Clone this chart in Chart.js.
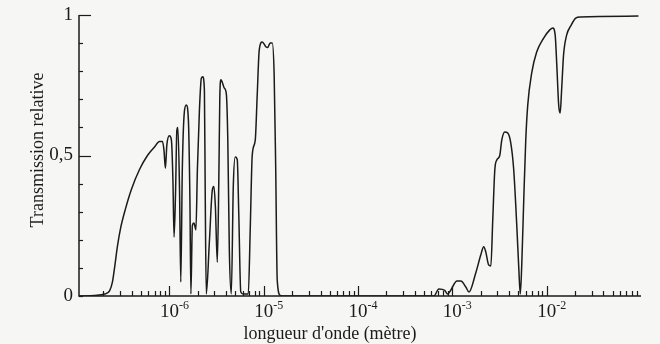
<!DOCTYPE html>
<html>
<head>
<meta charset="utf-8">
<script src="https://cdn.jsdelivr.net/npm/chart.js@4.4.1/dist/chart.umd.min.js"></script>
<style>
  html, body { margin: 0; padding: 0; background: #f6f6f4; }
  #wrap { width: 660px; height: 344px; }
</style>
</head>
<body>
<div id="wrap"><canvas id="graphe"></canvas></div>
<script>
// longueur d'onde (m)
const longueurs = [
  1.09e-7, 1.61e-7, 2.05e-7, 2.32e-7, 2.49e-7, 2.62e-7, 2.82e-7, 3.03e-7, 3.42e-7, 3.96e-7,
  4.82e-7, 5.85e-7, 6.94e-7, 7.84e-7, 8.43e-7, 8.75e-7, 9.07e-7, 9.39e-7, 1.0e-6, 1.05e-6,
  1.09e-6, 1.12e-6, 1.16e-6, 1.20e-6, 1.23e-6, 1.28e-6, 1.32e-6, 1.37e-6, 1.44e-6, 1.51e-6,
  1.59e-6, 1.65e-6, 1.69e-6, 1.75e-6, 1.82e-6, 1.91e-6, 1.98e-6, 2.08e-6, 2.18e-6, 2.26e-6,
  2.35e-6, 2.40e-6, 2.46e-6, 2.65e-6, 2.85e-6, 2.96e-6, 3.07e-6, 3.22e-6, 3.34e-6, 3.42e-6,
  3.51e-6, 3.64e-6, 3.82e-6, 4.01e-6, 4.16e-6, 4.32e-6, 4.53e-6, 4.76e-6, 4.99e-6, 5.24e-6,
  5.44e-6, 5.71e-6, 6.07e-6, 6.86e-6, 7.19e-6, 7.55e-6, 8.13e-6, 8.53e-6, 8.96e-6, 9.64e-6,
  1.06e-5, 1.10e-5, 1.17e-5, 1.23e-5, 1.29e-5, 1.34e-5, 1.39e-5, 1.50e-5, 1.65e-5,
  6.37e-4, 7.19e-4, 8.30e-4, 8.90e-4, 9.50e-4, 1.12e-3, 1.23e-3, 1.39e-3, 1.50e-3, 1.77e-3,
  2.00e-3, 2.15e-3, 2.26e-3, 2.43e-3, 2.56e-3, 2.68e-3, 2.82e-3, 2.96e-3, 3.18e-3, 3.34e-3,
  3.59e-3, 3.87e-3, 4.16e-3, 4.47e-3, 4.82e-3, 5.06e-3, 5.25e-3, 5.44e-3, 5.71e-3, 6.00e-3,
  6.30e-3, 6.94e-3, 7.83e-3, 9.29e-3, 1.08e-2, 1.16e-2, 1.23e-2, 1.28e-2, 1.34e-2, 1.39e-2,
  1.44e-2, 1.51e-2, 1.63e-2, 1.80e-2, 2.03e-2, 2.29e-2, 9.4e-2
];
const transmission = [
  0, 0.002, 0.007, 0.018, 0.05, 0.10, 0.18, 0.24, 0.31, 0.38,
  0.45, 0.50, 0.53, 0.55, 0.55, 0.52, 0.455, 0.537, 0.57, 0.555,
  0.41, 0.21, 0.36, 0.59, 0.60, 0.38, 0.05, 0.45, 0.655, 0.68,
  0.625, 0.34, 0.007, 0.25, 0.26, 0.235, 0.45, 0.66, 0.775, 0.78,
  0.73, 0.34, 0.007, 0.19, 0.377, 0.39, 0.32, 0.12, 0.41, 0.70,
  0.77, 0.76, 0.74, 0.72, 0.555, 0.16, 0.007, 0.395, 0.495, 0.485,
  0.29, 0.014, 0.007, 0.007, 0.235, 0.50, 0.555, 0.715, 0.875, 0.904,
  0.886, 0.884, 0.90, 0.90, 0.786, 0.45, 0.057, 0.002, 0,
  0, 0.025, 0.02, 0.007, 0.018, 0.053, 0.053, 0.032, 0.014, 0.082,
  0.146, 0.175, 0.157, 0.11, 0.107, 0.27, 0.45, 0.484, 0.50, 0.555,
  0.584, 0.58, 0.545, 0.45, 0.25, 0.10, 0.007, 0.11, 0.34, 0.555,
  0.68, 0.794, 0.868, 0.918, 0.947, 0.954, 0.929, 0.822, 0.68, 0.651,
  0.733, 0.858, 0.929, 0.961, 0.989, 0.993, 0.996
];

// graduations
const exposantsMajeurs = [-6, -5, -4, -3, -2];
const decades = [-7, -6, -5, -4, -3, -2];
const multiplicateurs = [1, 2, 3, 4, 5, 6, 7, 8, 9];
const yGraduations = [0, 0.1, 0.2, 0.3, 0.4, 0.5, 0.6, 0.7, 0.8, 0.9, 1];
const yEtiquettes = [[0, "0"], [0.5, "0,5"], [1, "1"]];

const xMin = 1.1e-7, xMax = 0.1;
const police = '"Liberation Serif", "DejaVu Serif", serif';
const encre = '#1b1b1b';

const xGraduations = [];
decades.forEach(e => multiplicateurs.forEach(m => {
    const v = m * Math.pow(10, e);
    if (v > xMin && v < xMax) xGraduations.push({ v, majeur: m === 1 });
}));

// axes avec graduations vers l'intérieur
const axesInterieurs = {
    id: 'axesInterieurs',
    afterDraw(chart) {
        const { ctx, chartArea: a, scales: { x, y } } = chart;
        ctx.save();
        ctx.strokeStyle = encre;
        ctx.fillStyle = encre;
        ctx.lineWidth = 1.5;
        ctx.beginPath();
        ctx.moveTo(a.left, a.top);
        ctx.lineTo(a.left, a.bottom);
        ctx.lineTo(a.right, a.bottom);
        ctx.stroke();

        ctx.lineWidth = 1.2;
        xGraduations.forEach(g => {
            const px = Math.round(x.getPixelForValue(g.v)) + 0.5;
            ctx.beginPath();
            ctx.moveTo(px, a.bottom);
            ctx.lineTo(px, a.bottom - (g.majeur ? 10 : 5));
            ctx.stroke();
        });
        yGraduations.forEach(v => {
            const py = Math.round(y.getPixelForValue(v)) + 0.5;
            const long = (v === 0.5 || v === 1) ? 12 : 4;
            ctx.beginPath();
            ctx.moveTo(a.left, py);
            ctx.lineTo(a.left + long, py);
            ctx.stroke();
        });

        // étiquettes x : 10 puissance n
        ctx.textBaseline = 'alphabetic';
        exposantsMajeurs.forEach(n => {
            const px = x.getPixelForValue(Math.pow(10, n));
            ctx.font = '19px ' + police;
            const w = ctx.measureText('10').width;
            ctx.textAlign = 'center';
            ctx.fillText('10', px, 317);
            ctx.font = '12px ' + police;
            ctx.textAlign = 'left';
            ctx.fillText('-' + Math.abs(n), px + w / 2, 309);
        });

        // étiquettes y
        ctx.font = '19px ' + police;
        ctx.textAlign = 'right';
        ctx.textBaseline = 'middle';
        yEtiquettes.forEach(([v, t]) => {
            ctx.fillText(t, a.left - 6, y.getPixelForValue(v));
        });

        // titres
        ctx.font = '18px ' + police;
        ctx.textAlign = 'center';
        ctx.textBaseline = 'alphabetic';
        ctx.fillText("longueur d'onde (mètre)", 330, 339);
        ctx.save();
        ctx.translate(43, 150);
        ctx.rotate(-Math.PI / 2);
        ctx.fillText('Transmission relative', 0, 0);
        ctx.restore();
        ctx.restore();
    }
};

const fond = {
    id: 'fond',
    beforeDraw(chart) {
        const { ctx, width, height } = chart;
        ctx.save();
        ctx.fillStyle = '#f6f6f4';
        ctx.fillRect(0, 0, width, height);
        ctx.restore();
    }
};

new Chart(document.getElementById('graphe'), {
    type: 'line',
    data: {
        datasets: [{
            data: longueurs.map((l, i) => ({ x: l, y: transmission[i] })),
            borderColor: encre,
            borderWidth: 1.5,
            pointRadius: 0,
            cubicInterpolationMode: 'monotone',
            fill: false
        }]
    },
    options: {
        responsive: true,
        maintainAspectRatio: false,
        animation: false,
        layout: { padding: { left: 79, right: 19, top: 15, bottom: 48 } },
        plugins: { legend: { display: false }, tooltip: { enabled: false } },
        scales: {
            x: { type: 'logarithmic', min: xMin, max: xMax, display: false },
            y: { type: 'linear', min: 0, max: 1, display: false }
        }
    },
    plugins: [fond, axesInterieurs]
});
</script>
</body>
</html>
